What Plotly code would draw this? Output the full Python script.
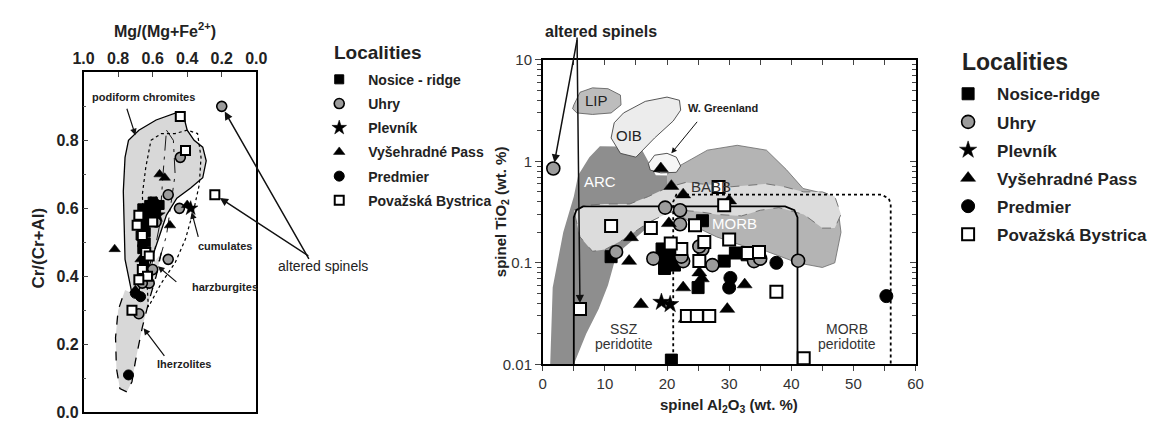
import math
import plotly.graph_objects as go

W, H = 1163, 428
FONT = "Arial, Liberation Sans, sans-serif"

# ---------------- Left panel: Mg/(Mg+Fe2+) vs Cr/(Cr+Al) ----------------
L_nosice_x = [0.66, 0.64, 0.62, 0.60, 0.63, 0.65, 0.67, 0.64, 0.66, 0.63, 0.61, 0.58, 0.56, 0.68, 0.65, 0.62, 0.67, 0.60, 0.66, 0.64]
L_nosice_y = [0.60, 0.58, 0.61, 0.60, 0.56, 0.54, 0.52, 0.50, 0.48, 0.46, 0.59, 0.59, 0.61, 0.56, 0.44, 0.57, 0.58, 0.62, 0.50, 0.53]
L_uhry_x = [0.20, 0.44, 0.51, 0.445, 0.51, 0.62, 0.66, 0.68, 0.60, 0.58]
L_uhry_y = [0.90, 0.75, 0.64, 0.60, 0.45, 0.38, 0.38, 0.29, 0.42, 0.56]
L_plevnik_x = [0.38, 0.57]
L_plevnik_y = [0.60, 0.58]
L_vys_x = [0.56, 0.53, 0.50, 0.82, 0.40, 0.61, 0.67, 0.65, 0.58, 0.70]
L_vys_y = [0.70, 0.69, 0.55, 0.48, 0.61, 0.62, 0.45, 0.42, 0.62, 0.36]
L_pred_x = [0.70, 0.74, 0.67]
L_pred_y = [0.35, 0.11, 0.34]
L_pov_x = [0.44, 0.41, 0.24, 0.72, 0.68, 0.69, 0.66, 0.64, 0.62, 0.66, 0.63, 0.68, 0.60]
L_pov_y = [0.87, 0.77, 0.64, 0.30, 0.58, 0.55, 0.52, 0.47, 0.46, 0.42, 0.40, 0.39, 0.56]

# fields (left)
podi_x = [0.72, 0.76, 0.765, 0.77, 0.76, 0.74, 0.68, 0.58, 0.47, 0.42, 0.40, 0.36, 0.31, 0.29, 0.31, 0.38, 0.46, 0.52, 0.56, 0.60, 0.64, 0.68, 0.72]
podi_y = [0.35, 0.45, 0.55, 0.65, 0.75, 0.80, 0.83, 0.86, 0.88, 0.87, 0.83, 0.80, 0.78, 0.74, 0.69, 0.66, 0.63, 0.58, 0.52, 0.46, 0.40, 0.36, 0.35]
lherz_x = [0.55, 0.58, 0.62, 0.66, 0.70, 0.72, 0.75, 0.79, 0.81, 0.815, 0.80, 0.76]
lherz_y = [0.47, 0.40, 0.33, 0.25, 0.15, 0.09, 0.06, 0.07, 0.13, 0.22, 0.30, 0.36]
harz_x = [0.52, 0.48, 0.47, 0.50, 0.52, 0.56, 0.60, 0.63, 0.60, 0.56, 0.54, 0.52]
harz_y = [0.83, 0.80, 0.70, 0.60, 0.52, 0.45, 0.40, 0.37, 0.45, 0.55, 0.70, 0.83]
cum_x = [0.61, 0.55, 0.47, 0.40, 0.34, 0.32, 0.33, 0.36, 0.41, 0.47, 0.55, 0.625, 0.64, 0.66, 0.64, 0.61]
cum_y = [0.80, 0.82, 0.82, 0.83, 0.82, 0.75, 0.67, 0.60, 0.51, 0.44, 0.38, 0.31, 0.45, 0.64, 0.72, 0.80]

# ---------------- Right panel: Al2O3 vs TiO2 ----------------
R_nosice_x = [11, 25.7, 19.2, 19.7, 20.6, 21.2, 19.6, 25.0, 31.0, 32.9, 20.7, 29.2]
R_nosice_y = [0.115, 0.26, 0.137, 0.104, 0.12, 0.095, 0.088, 0.057, 0.125, 0.12, 0.011, 0.104]
R_uhry_x = [1.7, 19.7, 22.1, 22.1, 11.8, 17.8, 22.6, 22.3, 25.7, 27.3, 34, 41.1, 25.2, 35]
R_uhry_y = [0.85, 0.35, 0.33, 0.24, 0.128, 0.11, 0.104, 0.115, 0.137, 0.095, 0.104, 0.105, 0.145, 0.11]
R_plevnik_x = [19.1, 20.5]
R_plevnik_y = [0.041, 0.039]
R_vys_x = [19, 20.7, 22.6, 30, 14.2, 20.3, 13.9, 25.2, 25.6, 22.6, 32.5, 15.8, 29.7, 23, 24.5, 20.5]
R_vys_y = [0.85, 0.57, 0.47, 0.41, 0.178, 0.245, 0.104, 0.08, 0.07, 0.057, 0.061, 0.039, 0.035, 0.028, 0.028, 0.105]
R_pred_x = [37.6, 30.2, 30, 55.3]
R_pred_y = [0.1, 0.071, 0.057, 0.047]
R_pov_x = [6, 11, 17.4, 28.3, 29.2, 24.5, 30, 26, 22.3, 25.2, 33, 34.8, 37.6, 23.2, 24.8, 26.8, 42, 20.6]
R_pov_y = [0.035, 0.23, 0.22, 0.56, 0.37, 0.235, 0.17, 0.16, 0.137, 0.104, 0.125, 0.128, 0.052, 0.03, 0.03, 0.03, 0.0115, 0.155]

# fields (right)
arc_x = [1.2, 5, 7, 9, 10.5, 11.5, 13, 16, 20, 24, 22, 18.2, 16, 12, 9.2, 7.5, 5.7, 5, 3.3, 1.6, 1.2]
arc_y = [0.01, 0.01, 0.02, 0.035, 0.06, 0.1, 0.14, 0.2, 0.35, 0.6, 0.72, 0.73, 1.29, 1.4, 1.41, 1.1, 0.73, 0.45, 0.2, 0.057, 0.01]
morb_x = [20, 22.1, 26.5, 31.3, 36, 39.2, 41.9, 45.5, 47.5, 48, 47, 45, 41, 36, 32.4, 28, 25, 22, 20]
morb_y = [0.75, 0.91, 1.29, 1.44, 1.29, 0.83, 0.54, 0.48, 0.35, 0.2, 0.1, 0.09, 0.1, 0.13, 0.146, 0.18, 0.22, 0.3, 0.5]
babb_x = [5, 7, 10, 14, 17, 20, 23, 26, 28, 30, 33, 36, 39, 42, 45, 47, 48, 47, 45, 42, 38, 35, 32, 28, 25, 22, 20.2, 17, 13, 10, 8, 6, 5]
babb_y = [0.33, 0.37, 0.38, 0.38, 0.45, 0.55, 0.62, 0.6, 0.58, 0.56, 0.58, 0.6, 0.56, 0.5, 0.5, 0.45, 0.3, 0.22, 0.22, 0.3, 0.35, 0.33, 0.29, 0.3, 0.32, 0.33, 0.31, 0.25, 0.17, 0.135, 0.13, 0.18, 0.33]
lip_x = [5, 6, 8, 10.5, 12.5, 12.6, 11, 8, 5.5, 4.8, 5]
lip_y = [3.6, 4.8, 5.3, 5.2, 4.5, 3.6, 3.0, 2.9, 3.0, 3.3, 3.6]
oib_x = [11, 11.5, 13, 16.5, 20, 22, 22.2, 21, 18, 15, 12.5, 11]
oib_y = [1.7, 2.4, 3.0, 3.9, 4.3, 4.0, 3.2, 2.5, 1.7, 1.1, 1.2, 1.7]
wgr_x = [17, 18, 20, 21.5, 22.2, 21.5, 19, 17.3, 17]
wgr_y = [0.95, 1.15, 1.2, 1.1, 0.9, 0.78, 0.77, 0.82, 0.95]
ssz_x = [5, 5, 5.4, 6.5, 39, 40.5, 41, 41]
ssz_y = [0.01, 0.28, 0.33, 0.36, 0.36, 0.33, 0.28, 0.01]
morbp_x = [21, 21, 21.5, 54.5, 55.7, 56, 56]
morbp_y = [0.01, 0.4, 0.47, 0.47, 0.43, 0.38, 0.01]

localities = ["Nosice - ridge", "Uhry", "Plevník", "Vyšehradné Pass", "Predmier", "Považská Bystrica"]
localities_r = ["Nosice-ridge", "Uhry", "Plevník", "Vyšehradné Pass", "Predmier", "Považská Bystrica"]

# ---------- geometry ----------
def px(x):
    return x / W

def py(y):
    return 1 - y / H

fig = go.Figure()

LG = "#d8d8d8"

def poly(x, y, fill, xa, ya, line_color="rgba(0,0,0,0)", width=0, dash="solid"):
    fig.add_trace(go.Scatter(x=x, y=y, mode="lines", fill="toself", fillcolor=fill,
                             line=dict(color=line_color, width=width, dash=dash),
                             xaxis=xa, yaxis=ya, showlegend=False, hoverinfo="skip"))

def line(x, y, xa, ya, color="black", width=1.2, dash="solid"):
    fig.add_trace(go.Scatter(x=x, y=y, mode="lines", line=dict(color=color, width=width, dash=dash),
                             xaxis=xa, yaxis=ya, showlegend=False, hoverinfo="skip"))

# left fields
poly(podi_x, podi_y, LG, "x", "y")
poly(lherz_x + [0.72], lherz_y + [0.35], LG, "x", "y")
line(podi_x, podi_y, "x", "y", width=1.3)
line(lherz_x, lherz_y, "x", "y", width=1.3, dash="dash")
line(cum_x, cum_y, "x", "y", width=1.2, dash="dot")
line(harz_x, harz_y, "x", "y", width=0.9, dash="longdashdot")

# right fields
poly(arc_x, arc_y, "#8e8e8e", "x2", "y2")
poly(morb_x, morb_y, "#b4b4b4", "x2", "y2", "#6a6a6a", 0.8)
poly(babb_x, babb_y, "#dcdcdc", "x2", "y2", "#6a6a6a", 0.9, "dash")
poly(lip_x, lip_y, "#bdbdbd", "x2", "y2", "#555555", 0.8)
poly(oib_x, oib_y, "#ececec", "x2", "y2", "#444444", 0.9)
poly(wgr_x, wgr_y, "#f6f6f6", "x2", "y2", "#444444", 0.9)
line(ssz_x, ssz_y, "x2", "y2", width=1.8)
line(morbp_x, morbp_y, "x2", "y2", width=1.8, dash="dot")

# markers
styles = [
    dict(symbol="square", color="black", line=dict(color="black", width=1)),
    dict(symbol="circle", color="#9c9c9c", line=dict(color="black", width=1.6)),
    dict(symbol="star", color="black", line=dict(color="black", width=0.5)),
    dict(symbol="triangle-up", color="black", line=dict(color="black", width=0.5)),
    dict(symbol="circle", color="black", line=dict(color="black", width=1)),
    dict(symbol="square", color="white", line=dict(color="black", width=2)),
]
left_sizes = [9, 10, 11, 10, 10, 9]
right_sizes = [12, 13, 13, 13, 13, 12]
L_data = [(L_nosice_x, L_nosice_y), (L_uhry_x, L_uhry_y), (L_plevnik_x, L_plevnik_y),
          (L_vys_x, L_vys_y), (L_pred_x, L_pred_y), (L_pov_x, L_pov_y)]
R_data = [(R_nosice_x, R_nosice_y), (R_uhry_x, R_uhry_y), (R_plevnik_x, R_plevnik_y),
          (R_vys_x, R_vys_y), (R_pred_x, R_pred_y), (R_pov_x, R_pov_y)]

for i, ((x, y), st) in enumerate(zip(L_data, styles)):
    fig.add_trace(go.Scatter(x=x, y=y, mode="markers", name=localities[i],
                             marker=dict(size=left_sizes[i], **st), xaxis="x", yaxis="y",
                             legend="legend", legendgroup=f"L{i}"))
for i, ((x, y), st) in enumerate(zip(R_data, styles)):
    fig.add_trace(go.Scatter(x=x, y=y, mode="markers", name=localities_r[i],
                             marker=dict(size=right_sizes[i], **st), xaxis="x3", yaxis="y3",
                             legend="legend2", legendgroup=f"R{i}"))

# ---------- axes ----------
LEFT_DOM_X = [px(74), px(250)]
LEFT_DOM_Y = [py(420), py(66)]
RIGHT_DOM_X = [px(542), px(922)]
RIGHT_DOM_Y = [py(370), py(53)]
lt = dict(family=FONT, size=16, color="#222", weight="bold")
rt = dict(family=FONT, size=15, color="#333")

fig.update_layout(
    width=W, height=H, margin=dict(l=0, r=0, t=0, b=0),
    paper_bgcolor="white", plot_bgcolor="white", font=dict(family=FONT, color="black"),
    xaxis=dict(domain=LEFT_DOM_X, anchor="y", side="top", range=[1.0, 0.0], tickvals=[1.0, 0.8, 0.6, 0.4, 0.2, 0.0],
               ticktext=["1.0", "0.8", "0.6", "0.4", "0.2", "0.0"], ticks="inside", ticklen=5,
               showline=True, linecolor="black", linewidth=1.5, mirror=True, showgrid=False, zeroline=False,
               tickfont=lt),
    yaxis=dict(domain=LEFT_DOM_Y, anchor="x", range=[0, 1.0], tickvals=[0, 0.2, 0.4, 0.6, 0.8],
               ticktext=["0.0", "0.2", "0.4", "0.6", "0.8"], ticks="inside", ticklen=5,
               minor=dict(dtick=0.1, ticks="inside", ticklen=3, tickcolor="#555"),
               showline=True, linecolor="black", linewidth=1.5, mirror=True, showgrid=False, zeroline=False,
               tickfont=lt),
    xaxis2=dict(domain=RIGHT_DOM_X, anchor="y2", range=[0, 60], tickvals=[0, 10, 20, 30, 40, 50, 60],
                ticks="outside", ticklen=5, minor=dict(dtick=5, ticks="outside", ticklen=5),
                showline=True, linecolor="black", linewidth=1.5, showgrid=False, zeroline=False, tickfont=rt),
    yaxis2=dict(domain=RIGHT_DOM_Y, anchor="x2", type="log", range=[-2, 1], tickvals=[0.01, 0.1, 1, 10],
                ticktext=["0.01", "0.1", "1", "10"], ticks="outside", ticklen=6,
                minor=dict(dtick="D1", ticks="outside", ticklen=4),
                showline=True, linecolor="black", linewidth=1.5, showgrid=False, zeroline=False, tickfont=rt),
    xaxis3=dict(overlaying="x2", anchor="y3", side="top", range=[0, 60], dtick=5, ticks="inside", ticklen=5,
                showticklabels=False, showline=True, linecolor="black", linewidth=1.5, showgrid=False, zeroline=False),
    yaxis3=dict(overlaying="y2", anchor="x3", side="right", type="log", range=[-2, 1], tickvals=[0.01, 0.1, 1, 10],
                ticks="inside", ticklen=6, minor=dict(dtick="D1", ticks="inside", ticklen=4),
                showticklabels=False, showline=True, linecolor="black", linewidth=1.5, showgrid=False, zeroline=False),
    legend=dict(x=px(305), y=py(57), xanchor="left", yanchor="top", itemwidth=48, tracegroupgap=3,
                font=dict(family=FONT, size=14, color="#222", weight="bold"), bgcolor="rgba(0,0,0,0)",
                itemclick=False),
    legend2=dict(x=px(946), y=py(70), xanchor="left", yanchor="top", itemwidth=48, tracegroupgap=3,
                 font=dict(family=FONT, size=17, color="#222", weight="bold"), bgcolor="rgba(0,0,0,0)",
                 itemclick=False),
)

ann = []

def text(x, y, s, size=12, bold=False, color="#222", xref="paper", yref="paper", xanchor="center", angle=0):
    ann.append(dict(x=x, y=y, xref=xref, yref=yref, text=s, showarrow=False, xanchor=xanchor, yanchor="middle",
                    textangle=angle, font=dict(family=FONT, size=size, color=color, weight="bold" if bold else "normal")))

def arrow(x, y, ax, ay, xref, yref, width=1.5, standoff=6):
    ann.append(dict(x=x, y=y, xref=xref, yref=yref, ax=ax, ay=ay, text="", showarrow=True, arrowhead=2,
                    arrowsize=1.1, arrowwidth=width, arrowcolor="#111", standoff=standoff))

# Left panel titles
text(px(157), py(22), "Mg/(Mg+Fe<sup>2+</sup>)", 16, True)
text(px(28), py(249), "Cr/(Cr+Al)", 17, True, angle=-90)
# Legend titles
text(px(327), py(45), "Localities", 19, True, xanchor="left")
text(px(967), py(55), "Localities", 23, True, xanchor="left")

# left annotations
text(px(135), py(92), "podiform chromites", 11, True)
arrow(0.70, 0.815, -9, -28, "x", "y", 1.2, 0)
text(px(218), py(247), "cumulates", 11, True)
arrow(0.38, 0.60, 8, 30, "x", "y", 1.2, 4)
text(px(218), py(290), "harzburgites", 11, True)
arrow(0.57, 0.43, 20, 17, "x", "y", 1.2, 0)
text(px(176), py(370), "lherzolites", 11, True)
arrow(0.653, 0.247, 22, 29, "x", "y", 1.2, 0)
text(px(318), py(268), "altered spinels", 14)
arrow(L_uhry_x[0], L_uhry_y[0], 88, 154, "x", "y", 1.5, 6)
arrow(L_pov_x[2], L_pov_y[2], 95, 62, "x", "y", 1.5, 6)

# right annotations
lg = math.log10
text(px(601), py(23), "altered spinels", 16, True)
arrow(R_uhry_x[0], lg(R_uhry_y[0]), 24, -130, "x2", "y2", 1.5, 6)
arrow(R_pov_x[0], lg(R_pov_y[0]), -3, -273, "x2", "y2", 1.5, 6)
text(px(726), py(103), "W. Greenland", 11, True)
arrow(20.7, lg(1.2), 27, -33, "x2", "y2", 1.0, 0)
text(8.7, lg(4.0), "LIP", 15, False, "#222", "x2", "y2")
text(13.9, lg(1.8), "OIB", 15, False, "#222", "x2", "y2")
text(9.2, lg(0.63), "ARC", 15, False, "white", "x2", "y2")
text(27, lg(0.56), "BABB", 15, False, "#333", "x2", "y2")
text(30.8, lg(0.246), "MORB", 15, False, "white", "x2", "y2")
text(13.1, lg(0.0225), "SSZ", 14, False, "#333", "x2", "y2")
text(13.1, lg(0.016), "peridotite", 14, False, "#333", "x2", "y2")
text(49, lg(0.0225), "MORB", 14, False, "#333", "x2", "y2")
text(49, lg(0.016), "peridotite", 14, False, "#333", "x2", "y2")
# right axis titles
text(px(732), py(413), "spinel Al<sub>2</sub>O<sub>3</sub> (wt. %)", 15, True)
text(px(500), py(211), "spinel TiO<sub>2</sub> (wt. %)", 15, True, angle=-90)

fig.update_layout(annotations=ann)
fig.write_html("out.html")
